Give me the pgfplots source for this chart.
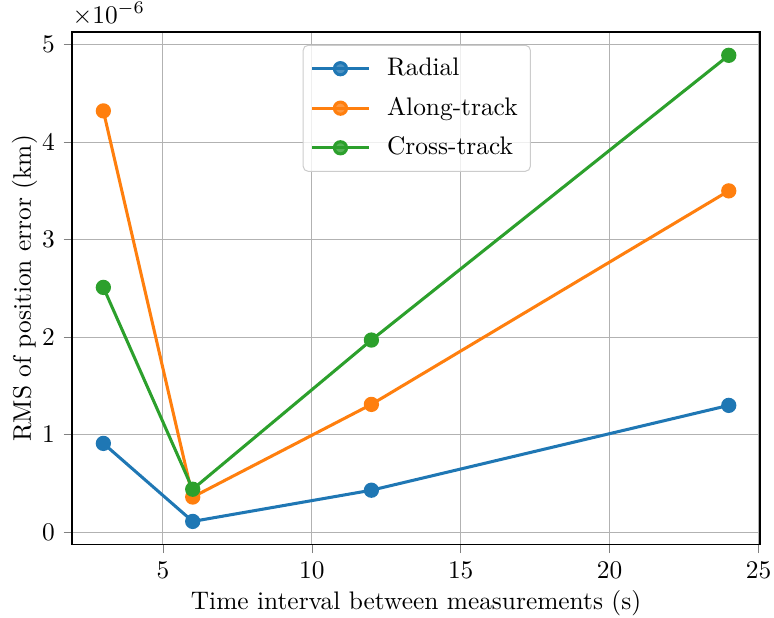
\documentclass[border=0pt]{standalone}
\usepackage{pgfplots}
\pgfplotsset{compat=1.18}
\definecolor{tabblue}{HTML}{1F77B4}
\definecolor{taborange}{HTML}{FF7F0E}
\definecolor{tabgreen}{HTML}{2CA02C}
\begin{document}
\begin{tikzpicture}
\begin{axis}[
  name=ax,
  scale only axis,
  width=271pt, height=202pt,
  xmin=1.95, xmax=25.05,
  ymin=-0.1295, ymax=5.1295,
  xtick={5,10,15,20,25},
  ytick={0,1,2,3,4,5},
  tick align=outside,
  xtick pos=left, ytick pos=left,
  major tick length=3.3pt,
  grid=major,
  grid style={color=black!30, line width=0.45pt},
  axis line style={line width=0.5pt},
  xlabel={Time interval between measurements (s)},
  ylabel={RMS of position error (km)},
  xlabel style={yshift=2pt},
  ylabel style={yshift=-5pt},
  legend style={at={(0.501,0.975)}, anchor=north, draw=black!20, rounded corners=2pt, fill=white, fill opacity=0.8, text opacity=1, inner xsep=3pt, inner ysep=3pt, row sep=3pt, /tikz/every odd column/.append style={column sep=4.7pt}},
  legend cell align=left,
  legend image code/.code={\draw[mark repeat=2,mark phase=2] plot coordinates {(0cm,0cm)(0.39cm,0cm)(0.78cm,0cm)};},
  every axis plot/.append style={line width=1.2pt, mark=*, mark size=2.4pt},
  clip=false,
]
\addplot[color=tabblue, mark options={fill=tabblue, draw=tabblue}] coordinates {(3,0.91) (6,0.11) (12,0.43) (24,1.30)};
\addlegendentry{Radial}
\addplot[color=taborange, mark options={fill=taborange, draw=taborange}] coordinates {(3,4.32) (6,0.36) (12,1.31) (24,3.50)};
\addlegendentry{Along-track}
\addplot[color=tabgreen, mark options={fill=tabgreen, draw=tabgreen}] coordinates {(3,2.51) (6,0.44) (12,1.97) (24,4.89)};
\addlegendentry{Cross-track}
\node[anchor=south west, inner sep=0pt] at (rel axis cs:0,1.012) {$\times10^{-6}$};
\end{axis}
\pgfresetboundingbox
\path[use as bounding box] ([xshift=-28.4pt,yshift=-28.75pt]ax.south west) rectangle ([xshift=5.5pt,yshift=12.6pt]ax.north east);
\end{tikzpicture}
\end{document}
